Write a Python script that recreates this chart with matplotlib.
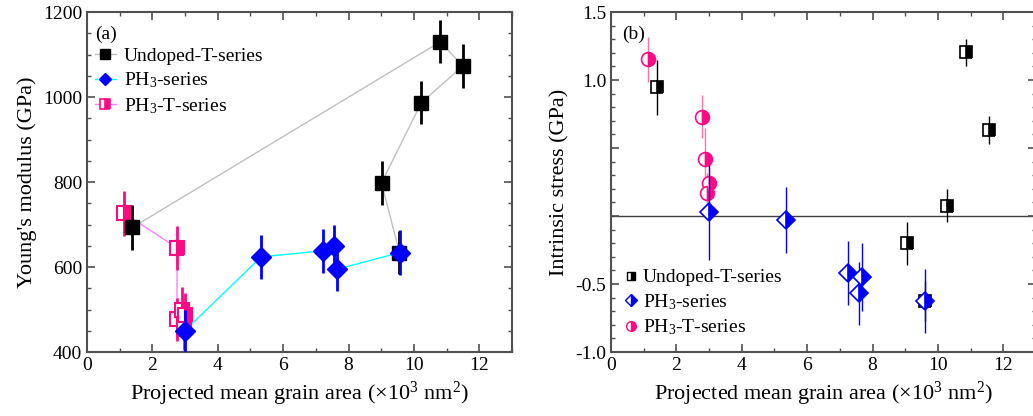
import numpy as np
import matplotlib
matplotlib.use('Agg')
import matplotlib.pyplot as plt
from matplotlib.ticker import MultipleLocator, FixedLocator, FixedFormatter
from matplotlib.lines import Line2D

plt.rcParams['font.family'] = ['Liberation Serif', 'DejaVu Serif']
plt.rcParams['mathtext.fontset'] = 'custom'
plt.rcParams['mathtext.rm'] = 'Liberation Serif'
plt.rcParams['mathtext.it'] = 'Liberation Serif:italic'

# (a) Young's modulus
und_x = [1.39, 10.81, 11.50, 10.23, 9.01, 9.56]
und_E = [693, 1130, 1073, 987, 798, 634]
und_Eerr = [52, 51, 52, 51, 51, 50]

ph3_x = [2.99, 5.33, 7.21, 7.56, 7.66, 9.57]
ph3_E = [450, 624, 638, 650, 595, 634]
ph3_Eerr = [50, 52, 51, 50, 51, 52]

pht_x = [1.14, 2.76, 2.75, 2.92, 3.00, 2.98]
pht_E = [726, 645, 477, 500, 488, 455]
pht_Eerr = [52, 52, 50, 52, 52, 50]

# (b) intrinsic stress
und_x2 = [1.40, 10.85, 11.56, 10.27, 9.04, 9.60]
und_s = [0.946, 1.204, 0.632, 0.076, -0.201, -0.625]
und_serr = [0.20, 0.10, 0.10, 0.12, 0.16, 0.15]

ph3_x2 = [3.00, 5.34, 7.24, 7.67, 7.58, 9.60]
ph3_s = [0.027, -0.029, -0.421, -0.451, -0.568, -0.625]
ph3_serr = [0.35, 0.24, 0.235, 0.25, 0.23, 0.235]

pht_x2 = [1.12, 2.79, 2.87, 3.00, 2.95]
pht_s = [1.152, 0.730, 0.417, 0.245, 0.167]
pht_serr = [0.165, 0.157, 0.23, 0.2, 0.15]

labels = ['Undoped-T-series', r'PH$_3$-series', r'PH$_3$-T-series']

pink = '#ff0a84'
lpink = '#ff70b0'
blue = '#0000ff'
spine_c = '#505050'

fig = plt.figure(figsize=(10.33, 4.16), dpi=100)
ax1 = fig.add_axes([0.0842, 0.1538, 0.4114, 0.8173])
ax2 = fig.add_axes([0.5915, 0.1538, 0.4114, 0.8173])

# ---- panel (a)
ax1.plot(und_x, und_E, '-', color='#c0c0c0', lw=1, zorder=1)
ax1.plot(ph3_x, ph3_E, '-', color='#00ffff', lw=1, zorder=1)
ax1.plot(pht_x, pht_E, '-', color='#ff80ff', lw=1, zorder=1)

ax1.errorbar(pht_x, pht_E, yerr=pht_Eerr, fmt='none', ecolor=pink, elinewidth=2, zorder=2)
ax1.plot(pht_x, pht_E, 's', ms=9.5, color=pink, mec=pink, fillstyle='right',
         markerfacecoloralt='white', mew=1.5, zorder=3)
ax1.errorbar(und_x, und_E, yerr=und_Eerr, fmt='none', ecolor='black', elinewidth=2, zorder=4)
ax1.plot(und_x, und_E, 's', ms=10, color='black', zorder=5)
ax1.errorbar(ph3_x, ph3_E, yerr=ph3_Eerr, fmt='none', ecolor=blue, elinewidth=2, zorder=6)
ax1.plot(ph3_x, ph3_E, 'D', ms=10, color=blue, zorder=7)

ax1.set_xlim(0, 13)
ax1.set_ylim(400, 1200)
ax1.xaxis.set_major_locator(MultipleLocator(2))
ax1.xaxis.set_minor_locator(MultipleLocator(1))
ax1.yaxis.set_major_locator(MultipleLocator(200))
ax1.yaxis.set_minor_locator(MultipleLocator(50))
ax1.set_ylabel("Young's modulus (GPa)", fontsize=16)
ax1.set_xlabel(r'Projected mean grain area ($\times$10$^3$ nm$^2$)', fontsize=16)
ax1.text(0.02, 0.96, '(a)', transform=ax1.transAxes, fontsize=14, va='top')

h1 = [Line2D([], [], color='#c0c0c0', lw=1, marker='s', ms=7, mfc='black', mec='black'),
      Line2D([], [], color='#00ffff', lw=1, marker='D', ms=6, mfc=blue, mec=blue),
      Line2D([], [], color='#ff80ff', lw=1, marker='s', ms=7, mfc=pink, mec=pink,
             fillstyle='right', markerfacecoloralt='white', mew=1.2)]
ax1.legend(h1, labels, loc='upper left', bbox_to_anchor=(0.0, 0.92), frameon=False,
           fontsize=14, handlelength=1.1, handletextpad=0.4, labelspacing=0.3,
           borderaxespad=0)

# ---- panel (b)
ax2.axhline(0, color='#404040', lw=1, zorder=1)
ax2.errorbar(und_x2, und_s, yerr=und_serr, fmt='none', ecolor='black', elinewidth=1, zorder=2)
ax2.plot(und_x2, und_s, 's', ms=8.5, color='black', mec='black', fillstyle='right',
         markerfacecoloralt='white', mew=1.2, zorder=3)
ax2.errorbar(pht_x2, pht_s, yerr=pht_serr, fmt='none', ecolor=lpink, elinewidth=1, zorder=4)
ax2.plot(pht_x2, pht_s, 'o', ms=10, color=pink, mec=pink, fillstyle='right',
         markerfacecoloralt='white', mew=1.2, zorder=5)
ax2.errorbar(ph3_x2, ph3_s, yerr=ph3_serr, fmt='none', ecolor=blue, elinewidth=1, zorder=6)
ax2.plot(ph3_x2, ph3_s, 'D', ms=9, color=blue, mec=blue, fillstyle='right',
         markerfacecoloralt='white', mew=1.2, zorder=7)

ax2.set_xlim(0, 13)
ax2.set_ylim(-1.0, 1.5)
ax2.xaxis.set_major_locator(MultipleLocator(2))
ax2.xaxis.set_minor_locator(MultipleLocator(1))
yt = [-1.0, -0.5, 0.0, 0.5, 1.0, 1.5]
ax2.yaxis.set_major_locator(FixedLocator(yt))
ax2.yaxis.set_major_formatter(FixedFormatter(['-1.0', '-0.5', '', '', '1.0', '1.5']))
ax2.yaxis.set_minor_locator(MultipleLocator(0.1))
ax2.set_ylabel('Intrinsic stress (GPa)', fontsize=16)
ax2.set_xlabel(r'Projected mean grain area ($\times$10$^3$ nm$^2$)', fontsize=16)
ax2.text(0.025, 0.96, '(b)', transform=ax2.transAxes, fontsize=14, va='top')

h2 = [Line2D([], [], ls='none', marker='s', ms=6, color='black', fillstyle='right',
             markerfacecoloralt='white', mew=1),
      Line2D([], [], ls='none', marker='D', ms=6, color=blue, fillstyle='right',
             markerfacecoloralt='white', mew=1),
      Line2D([], [], ls='none', marker='o', ms=7, color=pink, fillstyle='right',
             markerfacecoloralt='white', mew=1)]
ax2.legend(h2, labels, loc='lower left', bbox_to_anchor=(0.015, 0.02), frameon=False,
           fontsize=14, handlelength=0.6, handletextpad=0.3, labelspacing=0.3,
           borderaxespad=0)

for ax in (ax1, ax2):
    for s in ax.spines.values():
        s.set_color(spine_c)
        s.set_linewidth(1.5)
    ax.tick_params(which='both', direction='in', top=True, right=True,
                   labelsize=14, color=spine_c)
    ax.tick_params(which='major', length=6, width=1.2)
    ax.tick_params(which='minor', length=3, width=1.0)

fig.savefig('out.png', dpi=100)
